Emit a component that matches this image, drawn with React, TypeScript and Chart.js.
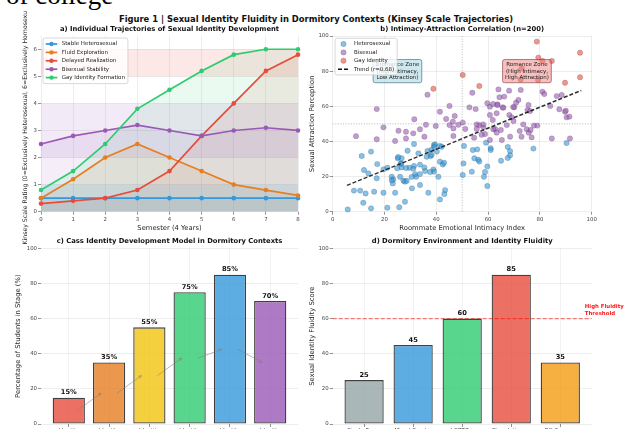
import React, { useEffect, useRef } from "react";
import { Chart, registerables } from "chart.js";

Chart.register(...registerables);

const FONT = "'DejaVu Sans', 'Liberation Sans', sans-serif";
Chart.defaults.font.family = FONT;

// ================= Panel a: trajectories =================
const semesters = [0, 1, 2, 3, 4, 5, 6, 7, 8];
const stableHeterosexual = [0.5, 0.5, 0.5, 0.5, 0.5, 0.5, 0.5, 0.5, 0.5];
const fluidExploration = [0.5, 1.2, 2.0, 2.5, 2.0, 1.5, 1.0, 0.8, 0.6];
const delayedRealization = [0.3, 0.4, 0.5, 0.8, 1.5, 2.8, 4.0, 5.2, 5.8];
const bisexualStability = [2.5, 2.8, 3.0, 3.2, 3.0, 2.8, 3.0, 3.1, 3.0];
const gayIdentityFormation = [0.8, 1.5, 2.5, 3.8, 4.5, 5.2, 5.8, 6.0, 6.0];
const trajectoryLabels = [
  "Stable Heterosexual",
  "Fluid Exploration",
  "Delayed Realization",
  "Bisexual Stability",
  "Gay Identity Formation",
];
const trajectoryColors = ["#3498db", "#e67e22", "#e74c3c", "#9b59b6", "#2ecc71"];
const kinseyTicks = [0, 1, 2, 3, 4, 5, 6];
const kinseyBandLow = [0, 2, 5];
const kinseyBandHigh = [1, 4, 6];
const kinseyBandColors = ["#3498db", "#9b59b6", "#e74c3c"];

// ================= Panel b: scatter =================
const heteroX = [5.8,8.2,10.6,12.7,11.8,14.8,16,19.6,21.1,24.1,25.7,27.9,11.2,12.1,13.8,14.8,17,17.2,19.6,21.1,22.8,23.2,23.4,24.9,25.1,26.3,26.6,26,26.6,27.3,27.9,28.6,28.9,29.6,30.6,31.4,31.4,31.8,32.2,33.1,33.7,33.7,35.4,35.7,36.3,36.6,36.9,37.8,38.2,38.9,39.1,39.1,39.5,40.2,40.8,41.4,41.4,41.4,42.1,42.5,43,43.1,43.4,50.2,50.5,50.7,53.7,54.1,55.8,54.7,56.2,56.6,58.4,58.8,59.2,59.7,59.7,61,61,65,67.6,68.5,68.5,67.6,77.5,90.3,25.3,26.4,28.3,31.1,33.7,37.6,38.2,39.2,30.5,22.8];
const heteroY = [1.3,12,12,10.4,5.1,1.9,11.4,10.8,2.3,10.8,2.5,5.7,31.7,23.7,21.8,34.2,19,27.1,24.1,25,19.9,16.1,18.4,24.7,30.4,27.5,25.2,19.9,30.4,17.6,17.1,17.6,34.7,25,13.3,26,38.5,21.3,19.9,33.2,21.4,15.2,25.2,23.1,31.3,34.6,10.8,31.7,32.3,24.1,22.8,38,38.3,34.2,19.9,37.4,28.5,7,37,26.9,27.9,10.1,12.3,20.9,27.5,37.4,22.8,35.1,35.5,30.4,29.6,28.6,19.9,22.6,39.3,25.8,14.6,36.1,35.1,29,36.8,34.5,32.1,30.6,35.9,39.1,31.1,27.3,24.9,24.5,26.8,22.6,35.3,36.8,19.8,17.9];
const biX = [17,9,17,19.6,31.5,36.6,28.3,25.4,28.3,24.1,31.1,33.7,35.4,36,39.8,41.4,43.8,45.1,45.1,46.4,47.1,46.6,46.6,48.5,50.2,51.2,52.8,53.9,55.2,54.6,55.6,56.6,58.2,58.8,59.7,60.7,60.7,60.7,61.9,61.8,62.7,63.6,64,64.4,65.6,64.9,65.3,66.2,67.2,68.1,68.2,68.5,69.1,69.8,70.1,70.8,71.7,72.2,72.6,72.9,74.9,75.2,75.6,75.7,76.4,76.8,77.7,79,81,81.7,84,84.6,86.5,88.4,87.5,89.7,90.3,91.4,91.6,90,57.5,63.3,62,63.6,65.9,69.7,63.3,76.2,55.6,58.1,73.6];
const biY = [58.4,43,41.2,48,52.6,66.6,45.5,46.1,41.7,40.2,44.6,46.9,42.7,49.5,48.8,56.9,52.8,60.2,49.3,51.2,54.5,43.1,47.4,49.5,50.7,47.1,59.4,67.7,58.4,42.1,47.1,49.3,48,44.2,61.7,55,59.8,40.8,61.3,52.2,47.1,61.1,69.6,65.1,59.4,46.5,40.8,65.5,49.3,68.9,55,42.7,53.7,51.6,59.4,62,63.6,45.9,69.3,42.7,46.9,57.9,60.7,45,46.5,42.3,49,49,68.3,67,60.2,41.7,65.8,66.4,58.3,56.9,53.7,54.1,41.7,57.5,43.8,45,46.9,60.7,59.2,59.6,56,57.3,49.7,49.7,49.7];
const gayX = [78.8,79.4,81,84.6,95.5,50.2,56.6,38.9,95.5,89.7,79.3,72.6,73];
const gayY = [96.8,87.7,85.8,85.8,90.5,77.8,71.5,70,76.5,73.4,75,75.3,81.6];
const trendX = [5.5, 96];
const trendY = [15, 69];
const scatterLabels = ["Heterosexual", "Bisexual", "Gay Identity", "Trend (r=0.68)"];
const scatterColors = ["#3498db", "#9b59b6", "#e74c3c"];
const refLineX = [50];
const refLineY = [50];
const zoneLines = [
  ["Bromance Zone", "(High Intimacy,", "Low Attraction)"],
  ["Romance Zone", "(High Intimacy,", "High Attraction)"],
];
const zoneX = [25, 75];
const zoneY = [80, 80];
const percentTicks = [0, 20, 40, 60, 80, 100];

// ================= Panel c: Cass model =================
const cassStages = [
  ["Identity", "Confusion"],
  ["Identity", "Comparison"],
  ["Identity", "Tolerance"],
  ["Identity", "Acceptance"],
  ["Identity", "Pride"],
  ["Identity", "Synthesis"],
];
const cassValues = [15, 35, 55, 75, 85, 70];
const cassColors = ["#e74c3c", "#e67e22", "#f1c40f", "#2ecc71", "#3498db", "#9b59b6"];

// ================= Panel d: dormitory environment =================
const dormTypes = [
  ["Single Room"],
  ["Mixed Gender"],
  ["LGBTQ+"],
  ["Close Intimacy"],
  ["Off-Campus"],
];
const dormScores = [25, 45, 60, 85, 35];
const dormColors = ["#95a5a6", "#3498db", "#2ecc71", "#e74c3c", "#f39c12"];
const fluidityThreshold = 60;
const thresholdLabel = ["High Fluidity", "Threshold"];

// ================= styling helpers =================
const TICK = 5.4;
const LABEL = 6.8;
const GRID = "rgba(0,0,0,0.09)";
const TICK_COLOR = "#444";

function rgba(hex: string, a: number) {
  const n = parseInt(hex.slice(1), 16);
  return `rgba(${n >> 16},${(n >> 8) & 255},${n & 255},${a})`;
}

function roundRect(ctx: CanvasRenderingContext2D, x: number, y: number, w: number, h: number, r: number) {
  ctx.beginPath();
  ctx.moveTo(x + r, y);
  ctx.lineTo(x + w - r, y);
  ctx.arcTo(x + w, y, x + w, y + r, r);
  ctx.lineTo(x + w, y + h - r);
  ctx.arcTo(x + w, y + h, x + w - r, y + h, r);
  ctx.lineTo(x + r, y + h);
  ctx.arcTo(x, y + h, x, y + h - r, r);
  ctx.lineTo(x, y + r);
  ctx.arcTo(x, y, x + r, y, r);
  ctx.closePath();
}

type Geo = { left: number; top: number; width: number; height: number; L: number; R: number; T: number; B: number; XH: number };

function layoutFor(g: Geo) {
  return { padding: { left: 0, top: g.T, right: g.width - g.R, bottom: g.height - g.B - g.XH } };
}

function gridOpts(extra: any = {}) {
  return { color: GRID, lineWidth: 0.8, tickLength: 3, tickColor: "#777", tickWidth: 0.8, ...extra };
}

// ================= plugins =================
const axTitlePlugin = {
  id: "axTitle",
  afterDraw(chart: any, _a: any, o: any) {
    if (!o || !o.text) return;
    const { ctx, chartArea } = chart;
    ctx.save();
    ctx.font = `bold ${o.size}px ${FONT}`;
    ctx.fillStyle = "#111";
    ctx.textAlign = "center";
    ctx.textBaseline = "middle";
    ctx.fillText(o.text, (chartArea.left + chartArea.right) / 2, chartArea.top - o.gap);
    ctx.restore();
  },
};

const bandsPlugin = {
  id: "bands",
  beforeDatasetsDraw(chart: any, _a: any, o: any) {
    if (!o || !o.low) return;
    const { ctx, chartArea: ca, scales } = chart;
    ctx.save();
    for (let i = 0; i < o.low.length; i++) {
      const y0 = scales.y.getPixelForValue(o.low[i]);
      const y1 = scales.y.getPixelForValue(o.high[i]);
      ctx.fillStyle = rgba(o.colors[i], o.alpha);
      ctx.fillRect(ca.left, y1, ca.right - ca.left, y0 - y1);
    }
    ctx.restore();
  },
};

const boxLegendPlugin = {
  id: "boxLegend",
  afterDraw(chart: any, _a: any, o: any) {
    if (!o || !o.labels) return;
    const { ctx, chartArea: ca } = chart;
    ctx.save();
    ctx.font = `${o.size}px ${FONT}`;
    let tw = 0;
    for (const l of o.labels) tw = Math.max(tw, ctx.measureText(l).width);
    const x0 = ca.left + o.dx;
    const y0 = ca.top + o.dy;
    const w = o.textX + tw + o.padR;
    const h = o.padT * 2 + (o.labels.length - 1) * o.rowH;
    roundRect(ctx, x0, y0, w, h, 2);
    ctx.fillStyle = "rgba(255,255,255,0.8)";
    ctx.fill();
    ctx.strokeStyle = "rgba(200,200,200,0.9)";
    ctx.lineWidth = 0.8;
    ctx.stroke();
    for (let i = 0; i < o.labels.length; i++) {
      const cy = y0 + o.padT + i * o.rowH;
      const kind = o.kinds[i];
      const color = o.colors[i];
      if (kind === "line") {
        ctx.strokeStyle = color;
        ctx.lineWidth = 1.7;
        ctx.setLineDash([]);
        ctx.beginPath();
        ctx.moveTo(x0 + o.handleX, cy);
        ctx.lineTo(x0 + o.handleX + o.handleW, cy);
        ctx.stroke();
        ctx.fillStyle = color;
        ctx.beginPath();
        ctx.arc(x0 + o.handleX + o.handleW / 2, cy, 2.2, 0, Math.PI * 2);
        ctx.fill();
      } else if (kind === "dash") {
        ctx.strokeStyle = color;
        ctx.lineWidth = 1.5;
        ctx.setLineDash([4, 2]);
        ctx.beginPath();
        ctx.moveTo(x0 + o.handleX, cy);
        ctx.lineTo(x0 + o.handleX + o.handleW, cy);
        ctx.stroke();
        ctx.setLineDash([]);
      } else {
        ctx.fillStyle = rgba(color, 0.6);
        ctx.strokeStyle = "rgba(40,40,40,0.35)";
        ctx.lineWidth = 0.5;
        ctx.beginPath();
        ctx.arc(x0 + o.handleX + o.handleW / 2, cy, 2.7, 0, Math.PI * 2);
        ctx.fill();
        ctx.stroke();
      }
      ctx.fillStyle = "#222";
      ctx.textAlign = "left";
      ctx.textBaseline = "middle";
      ctx.fillText(o.labels[i], x0 + o.textX, cy);
    }
    ctx.restore();
  },
};

const refLinesPlugin = {
  id: "refLines",
  beforeDatasetsDraw(chart: any, _a: any, o: any) {
    if (!o || !o.xs) return;
    const { ctx, chartArea: ca, scales } = chart;
    ctx.save();
    ctx.strokeStyle = "rgba(128,128,128,0.55)";
    ctx.lineWidth = 1;
    ctx.setLineDash([1, 1.6]);
    for (const v of o.xs) {
      const x = scales.x.getPixelForValue(v);
      ctx.beginPath();
      ctx.moveTo(x, ca.top);
      ctx.lineTo(x, ca.bottom);
      ctx.stroke();
    }
    for (const v of o.ys) {
      const y = scales.y.getPixelForValue(v);
      ctx.beginPath();
      ctx.moveTo(ca.left, y);
      ctx.lineTo(ca.right, y);
      ctx.stroke();
    }
    ctx.restore();
  },
};

const zoneBoxPlugin = {
  id: "zoneBoxes",
  afterDatasetsDraw(chart: any, _a: any, o: any) {
    if (!o || !o.lines) return;
    const { ctx, scales } = chart;
    ctx.save();
    ctx.font = `${o.size}px ${FONT}`;
    for (let i = 0; i < o.lines.length; i++) {
      const lines: string[] = o.lines[i];
      const cx = scales.x.getPixelForValue(o.xs[i]);
      const cy = scales.y.getPixelForValue(o.ys[i]);
      let tw = 0;
      for (const l of lines) tw = Math.max(tw, ctx.measureText(l).width);
      const w = tw + o.padX * 2;
      const h = lines.length * o.lineH + o.padY * 2;
      roundRect(ctx, cx - w / 2, cy - h / 2, w, h, 2);
      ctx.fillStyle = o.fills[i];
      ctx.fill();
      ctx.strokeStyle = o.strokes[i];
      ctx.lineWidth = 0.9;
      ctx.stroke();
      ctx.fillStyle = "#222";
      ctx.textAlign = "center";
      ctx.textBaseline = "middle";
      lines.forEach((l, k) => {
        ctx.fillText(l, cx, cy - h / 2 + o.padY + o.lineH * (k + 0.5));
      });
    }
    ctx.restore();
  },
};

const barValuePlugin = {
  id: "barValues",
  afterDraw(chart: any, _a: any, o: any) {
    if (!o || !o.values) return;
    const { ctx } = chart;
    const meta = chart.getDatasetMeta(0);
    const y = chart.scales.y;
    ctx.save();
    ctx.font = `bold ${o.size}px ${FONT}`;
    ctx.fillStyle = "#111";
    ctx.textAlign = "center";
    ctx.textBaseline = "bottom";
    meta.data.forEach((el: any, i: number) => {
      const v = o.values[i];
      ctx.fillText(`${v}${o.suffix}`, el.x, y.getPixelForValue(v + o.lift));
    });
    ctx.restore();
  },
};

const stageArrowPlugin = {
  id: "stageArrows",
  afterDraw(chart: any, _a: any, o: any) {
    if (!o || !o.values) return;
    const { ctx, scales } = chart;
    ctx.save();
    ctx.strokeStyle = "rgba(128,128,128,0.55)";
    ctx.lineWidth = 1;
    for (let i = 0; i < o.values.length - 1; i++) {
      const x1 = scales.x.getPixelForValue(i + o.startDx);
      const y1 = scales.y.getPixelForValue(o.values[i] * o.frac);
      const x2 = scales.x.getPixelForValue(i + o.endDx);
      const y2 = scales.y.getPixelForValue(o.values[i + 1] * o.frac);
      ctx.beginPath();
      ctx.moveTo(x1, y1);
      ctx.lineTo(x2, y2);
      ctx.stroke();
      const a = Math.atan2(y2 - y1, x2 - x1);
      const hl = 3.2;
      ctx.beginPath();
      ctx.moveTo(x2 - hl * Math.cos(a - 0.45), y2 - hl * Math.sin(a - 0.45));
      ctx.lineTo(x2, y2);
      ctx.lineTo(x2 - hl * Math.cos(a + 0.45), y2 - hl * Math.sin(a + 0.45));
      ctx.stroke();
    }
    ctx.restore();
  },
};

const thresholdPlugin = {
  id: "threshold",
  afterDatasetsDraw(chart: any, _a: any, o: any) {
    if (!o || o.value === undefined) return;
    const { ctx, chartArea: ca, scales } = chart;
    const y = scales.y.getPixelForValue(o.value);
    ctx.save();
    ctx.strokeStyle = "rgba(255,0,0,0.5)";
    ctx.lineWidth = 1.4;
    ctx.setLineDash([4, 2]);
    ctx.beginPath();
    ctx.moveTo(ca.left, y);
    ctx.lineTo(ca.right, y);
    ctx.stroke();
    ctx.setLineDash([]);
    ctx.font = `bold ${o.size}px ${FONT}`;
    ctx.fillStyle = "#ff1a1a";
    ctx.textAlign = "left";
    ctx.textBaseline = "middle";
    const tx = scales.x.getPixelForValue(o.textX);
    const bottom = scales.y.getPixelForValue(o.textY);
    const n = o.lines.length;
    o.lines.forEach((l: string, k: number) => {
      ctx.fillText(l, tx, bottom - (n - k - 0.5) * o.lineH);
    });
    ctx.restore();
  },
};

// ================= geometry =================
const geoA: Geo = { left: 0, top: 11, width: 310, height: 240, L: 41, R: 298, T: 24.7, B: 200.7, XH: 20.4 };
const geoB: Geo = { left: 305, top: 11, width: 324, height: 240, L: 27.7, R: 286.7, T: 25, B: 200.7, XH: 20.4 };
const geoC: Geo = { left: 0, top: 232, width: 310, height: 210, L: 41, R: 298, T: 16.3, B: 192, XH: 18 };
const geoD: Geo = { left: 305, top: 232, width: 324, height: 210, L: 27.7, R: 286.7, T: 16.3, B: 192, XH: 18 };

function baseOptions(g: Geo) {
  return {
    animation: false,
    responsive: false,
    events: [],
    layout: layoutFor(g),
  };
}

function buildA() {
  const series = [stableHeterosexual, fluidExploration, delayedRealization, bisexualStability, gayIdentityFormation];
  return {
    type: "line",
    data: {
      datasets: series.map((arr, i) => ({
        label: trajectoryLabels[i],
        data: semesters.map((s, j) => ({ x: s, y: arr[j] })),
        borderColor: trajectoryColors[i],
        backgroundColor: rgba(trajectoryColors[i], 0.1),
        fill: "origin",
        pointRadius: 2.3,
        pointBackgroundColor: trajectoryColors[i],
        pointBorderWidth: 0,
        borderWidth: 1.7,
        tension: 0,
        order: series.length - i,
        clip: 4,
      })),
    },
    options: {
      ...baseOptions(geoA),
      scales: {
        x: {
          type: "linear",
          min: 0,
          max: 8,
          afterBuildTicks: (s: any) => { s.ticks = semesters.map((v) => ({ value: v })); },
          afterFit: (s: any) => { s.height = geoA.XH; },
          ticks: { font: { size: TICK }, color: TICK_COLOR, padding: 1.3, maxRotation: 0, autoSkip: false },
          grid: gridOpts(),
          border: { display: false },
          title: { display: true, text: "Semester (4 Years)", font: { size: LABEL }, color: "#262626", padding: { top: 0, bottom: 0 } },
        },
        y: {
          type: "linear",
          min: 0,
          max: 6.5,
          afterBuildTicks: (s: any) => { s.ticks = kinseyTicks.map((v) => ({ value: v })); },
          afterFit: (s: any) => { s.width = geoA.L; },
          ticks: { font: { size: TICK }, color: TICK_COLOR, padding: 1 },
          grid: gridOpts(),
          border: { display: false },
          title: {
            display: true,
            text: "Kinsey Scale Rating (0=Exclusively Heterosexual, 6=Exclusively Homosexual)",
            font: { size: 6.2 },
            color: "#262626",
            padding: { top: 21.3, bottom: 0 },
          },
        },
      },
      plugins: {
        legend: { display: false },
        tooltip: { enabled: false },
        filler: { drawTime: "beforeDatasetsDraw" },
        bands: { low: kinseyBandLow, high: kinseyBandHigh, colors: kinseyBandColors, alpha: 0.13 },
        axTitle: { text: "a) Individual Trajectories of Sexual Identity Development", size: 6.8, gap: 6.7 },
        boxLegend: {
          labels: trajectoryLabels,
          colors: trajectoryColors,
          kinds: ["line", "line", "line", "line", "line"],
          size: 5.5,
          dx: 2,
          dy: 2.3,
          padT: 6,
          rowH: 8.4,
          handleX: 2.7,
          handleW: 11.6,
          textX: 18.7,
          padR: 3,
        },
      },
    },
    plugins: [bandsPlugin, axTitlePlugin, boxLegendPlugin],
  };
}

function buildB() {
  const pts = (xs: number[], ys: number[]) => xs.map((x, i) => ({ x, y: ys[i] }));
  const groups = [pts(heteroX, heteroY), pts(biX, biY), pts(gayX, gayY)];
  const datasets: any[] = groups.map((data, i) => ({
    label: scatterLabels[i],
    data,
    backgroundColor: rgba(scatterColors[i], 0.6),
    borderColor: "rgba(40,40,40,0.35)",
    borderWidth: 0.5,
    pointRadius: 2.7,
    order: 4 - i,
    clip: 4,
  }));
  datasets.push({
    type: "line",
    label: scatterLabels[3],
    data: pts(trendX, trendY),
    borderColor: "rgba(0,0,0,0.8)",
    borderWidth: 1.5,
    borderDash: [4, 2],
    pointRadius: 0,
    showLine: true,
    fill: false,
    order: 0,
  });
  return {
    type: "scatter",
    data: { datasets },
    options: {
      ...baseOptions(geoB),
      scales: {
        x: {
          type: "linear",
          min: 0,
          max: 100,
          afterBuildTicks: (s: any) => { s.ticks = percentTicks.map((v) => ({ value: v })); },
          afterFit: (s: any) => { s.height = geoB.XH; },
          ticks: { font: { size: TICK }, color: TICK_COLOR, padding: 1.3, maxRotation: 0, autoSkip: false },
          grid: gridOpts(),
          border: { display: false },
          title: { display: true, text: "Roommate Emotional Intimacy Index", font: { size: LABEL }, color: "#262626", padding: { top: 0, bottom: 0 } },
        },
        y: {
          type: "linear",
          min: 0,
          max: 100,
          afterBuildTicks: (s: any) => { s.ticks = percentTicks.map((v) => ({ value: v })); },
          afterFit: (s: any) => { s.width = geoB.L; },
          ticks: { font: { size: TICK }, color: TICK_COLOR, padding: 1 },
          grid: gridOpts(),
          border: { display: false },
          title: { display: true, text: "Sexual Attraction Perception", font: { size: LABEL }, color: "#262626", padding: { top: 2.9, bottom: 0 } },
        },
      },
      plugins: {
        legend: { display: false },
        tooltip: { enabled: false },
        refLines: { xs: refLineX, ys: refLineY },
        zoneBoxes: {
          lines: zoneLines,
          xs: zoneX,
          ys: zoneY,
          fills: ["rgba(173,216,230,0.6)", "rgba(240,128,128,0.5)"],
          strokes: ["rgba(60,100,120,0.7)", "rgba(130,60,60,0.7)"],
          size: 5.5,
          lineH: 6.8,
          padX: 2.5,
          padY: 1.4,
        },
        axTitle: { text: "b) Intimacy-Attraction Correlation (n=200)", size: 6.8, gap: 7 },
        boxLegend: {
          labels: scatterLabels,
          colors: ["#3498db", "#9b59b6", "#e74c3c", "#111111"],
          kinds: ["point", "point", "point", "dash"],
          size: 5.5,
          dx: 2.3,
          dy: 2.3,
          padT: 5.7,
          rowH: 8.4,
          handleX: 3,
          handleW: 11,
          textX: 19,
          padR: 3,
        },
      },
    },
    plugins: [refLinesPlugin, zoneBoxPlugin, axTitlePlugin, boxLegendPlugin],
  };
}

function buildBars(g: Geo, values: number[], colors: string[], names: string[][], yTitle: string, yPad: number, title: string, extra: any, plugins: any[]) {
  const n = values.length;
  const margin = (n - 0.2) * 0.05 + 0.4;
  return {
    type: "bar",
    data: {
      datasets: [
        {
          data: values.map((v, i) => ({ x: i, y: v })),
          backgroundColor: colors.map((c) => rgba(c, 0.8)),
          borderColor: "rgba(0,0,0,0.75)",
          borderWidth: 1.3,
          borderSkipped: false,
          categoryPercentage: 1,
          barPercentage: 0.8,
        },
      ],
    },
    options: {
      ...baseOptions(g),
      scales: {
        x: {
          type: "linear",
          min: -margin,
          max: n - 1 + margin,
          offset: false,
          z: 1,
          afterBuildTicks: (s: any) => { s.ticks = values.map((_v, i) => ({ value: i })); },
          afterFit: (s: any) => { s.height = g.XH; },
          ticks: {
            font: { size: TICK },
            color: TICK_COLOR,
            padding: 0,
            maxRotation: 0,
            minRotation: 0,
            autoSkip: false,
            callback: (v: number) => names[Math.round(v)] || "",
          },
          grid: { color: "rgba(225,225,225,0.55)", lineWidth: 0.8, offset: false, tickLength: 3, tickColor: "#777" },
          border: { display: false },
        },
        y: {
          type: "linear",
          min: 0,
          max: 100,
          afterBuildTicks: (s: any) => { s.ticks = percentTicks.map((v) => ({ value: v })); },
          afterFit: (s: any) => { s.width = g.L; },
          ticks: { font: { size: TICK }, color: TICK_COLOR, padding: 1 },
          grid: gridOpts(),
          border: { display: false },
          title: { display: true, text: yTitle, font: { size: LABEL }, color: "#262626", padding: { top: yPad, bottom: 0 } },
        },
      },
      plugins: {
        legend: { display: false },
        tooltip: { enabled: false },
        axTitle: { text: title, size: 6.8, gap: 6.6 },
        ...extra,
      },
    },
    plugins: [axTitlePlugin, ...plugins],
  };
}

function buildC() {
  return buildBars(
    geoC,
    cassValues,
    cassColors,
    cassStages,
    "Percentage of Students in Stage (%)",
    13.9,
    "c) Cass Identity Development Model in Dormitory Contexts",
    {
      barValues: { values: cassValues, suffix: "%", size: 6.7, lift: 1 },
      stageArrows: { values: cassValues, startDx: 0.2, endDx: 0.8, frac: 0.5 },
    },
    [stageArrowPlugin, barValuePlugin]
  );
}

function buildD() {
  return buildBars(
    geoD,
    dormScores,
    dormColors,
    dormTypes,
    "Sexual Identity Fluidity Score",
    2.9,
    "d) Dormitory Environment and Identity Fluidity",
    {
      barValues: { values: dormScores, suffix: "", size: 6.7, lift: 1 },
      threshold: { value: fluidityThreshold, lines: thresholdLabel, textX: 4.5, textY: 61, size: 5.4, lineH: 7 },
    },
    [thresholdPlugin, barValuePlugin]
  );
}

function Panel({ geo, build }: { geo: Geo; build: () => any }) {
  const ref = useRef<HTMLCanvasElement | null>(null);
  useEffect(() => {
    if (!ref.current) return;
    const chart = new Chart(ref.current, build() as any);
    return () => chart.destroy();
  }, []);
  return (
    <canvas
      ref={ref}
      width={geo.width}
      height={geo.height}
      style={{ position: "absolute", left: geo.left, top: geo.top, width: geo.width, height: geo.height }}
    />
  );
}

export default function App() {
  return (
    <div style={{ position: "fixed", left: 0, top: 0, width: 629, height: 429, overflow: "hidden", background: "#fff" }}>
      <div
        style={{
          position: "absolute",
          left: 6,
          top: -18,
          fontFamily: "serif",
          fontSize: 27,
          lineHeight: "27px",
          whiteSpace: "nowrap",
          color: "#000",
        }}
      >
        of college
      </div>
      <div
        style={{
          position: "absolute",
          left: 0,
          top: 14,
          width: 632,
          textAlign: "center",
          fontFamily: FONT,
          fontWeight: "bold",
          fontSize: 8.4,
          lineHeight: "10px",
          color: "#111",
          whiteSpace: "nowrap",
        }}
      >
        Figure 1 | Sexual Identity Fluidity in Dormitory Contexts (Kinsey Scale Trajectories)
      </div>
      <Panel geo={geoA} build={buildA} />
      <Panel geo={geoB} build={buildB} />
      <Panel geo={geoC} build={buildC} />
      <Panel geo={geoD} build={buildD} />
    </div>
  );
}
